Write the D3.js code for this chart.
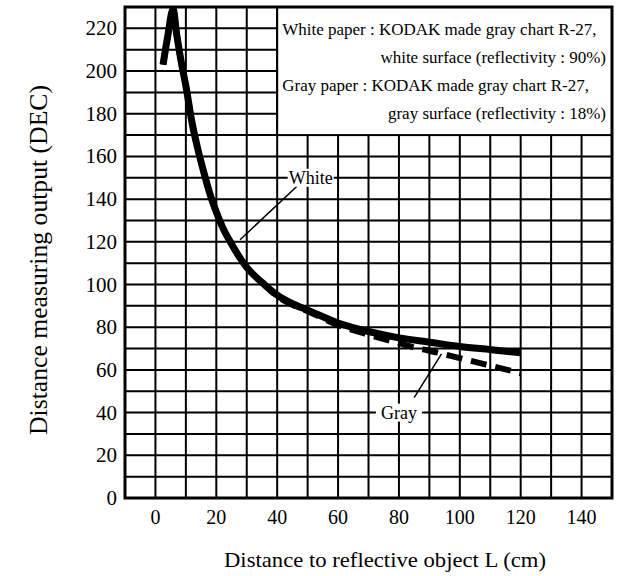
<!DOCTYPE html>
<html>
<head>
<meta charset="utf-8">
<script src="https://cdn.jsdelivr.net/npm/d3@7"></script>
<style>
  body { margin: 0; background: #fff; }
  svg { font-family: "Liberation Serif", "DejaVu Serif", serif; }
</style>
</head>
<body>
<svg width="619" height="576"></svg>
<script>
// data
var xTicks = [0, 20, 40, 60, 80, 100, 120, 140];
var yTicks = [0, 20, 40, 60, 80, 100, 120, 140, 160, 180, 200, 220];

var whiteDist = [2.5, 4, 5.8, 7, 8.5, 10, 12, 14, 16, 18, 20, 22, 25, 28, 30, 35, 40, 45, 50, 60, 70, 80, 90, 100, 110, 120];
var whiteOut  = [203, 216, 229, 217, 204, 193, 176, 163, 152, 142, 134, 127, 119, 112, 108, 101, 95, 91, 88, 82, 78, 75, 73, 71, 69.5, 68];

var grayDist = [2.5, 4, 5.8, 7, 8.5, 10, 12, 14, 16, 18, 20, 22, 25, 28, 30, 35, 40, 45, 50, 60, 70, 80, 85, 90, 100, 110, 120];
var grayOut  = [203, 216, 229, 217, 204, 193, 176, 163, 152, 142, 134, 127, 119, 112, 108, 101, 94.5, 90.5, 87.5, 81, 76.5, 72.5, 70.5, 69, 65.5, 62, 58.5];

var legendLines = [
  "White paper : KODAK made gray chart R-27,",
  "white surface (reflectivity : 90%)",
  "Gray paper : KODAK made gray chart R-27,",
  "gray surface (reflectivity : 18%)"
];

var svg = d3.select("svg");

var xScale = d3.scaleLinear().domain([-10, 150]).range([125, 612]),
    yScale = d3.scaleLinear().domain([0, 230]).range([498, 7]);

svg.append("rect").attr("width", 619).attr("height", 576).attr("fill", "#fff");

var g = svg.append("g");

// grid, every 10 units
g.selectAll(".vgrid")
  .data(d3.range(0, 150, 10))
  .enter().append("line")
  .attr("class", "vgrid")
  .attr("x1", function(d) { return xScale(d); })
  .attr("x2", function(d) { return xScale(d); })
  .attr("y1", yScale(0))
  .attr("y2", yScale(230))
  .attr("stroke", "#000")
  .attr("stroke-width", 2);

g.selectAll(".hgrid")
  .data(d3.range(10, 230, 10))
  .enter().append("line")
  .attr("class", "hgrid")
  .attr("y1", function(d) { return yScale(d); })
  .attr("y2", function(d) { return yScale(d); })
  .attr("x1", xScale(-10))
  .attr("x2", xScale(150))
  .attr("stroke", "#000")
  .attr("stroke-width", 2);

// legend box covers the grid top right
g.append("rect")
  .attr("x", xScale(40))
  .attr("y", yScale(230))
  .attr("width", xScale(150) - xScale(40))
  .attr("height", yScale(170) - yScale(230))
  .attr("fill", "#fff")
  .attr("stroke", "#000")
  .attr("stroke-width", 2);

g.selectAll(".legtext")
  .data(legendLines)
  .enter().append("text")
  .attr("class", "legtext")
  .attr("x", function(d, i) { return i % 2 == 0 ? xScale(40) + 5 : xScale(150) - 6; })
  .attr("y", function(d, i) { return 35 + i * 28; })
  .attr("text-anchor", function(d, i) { return i % 2 == 0 ? "start" : "end"; })
  .attr("font-size", "17px")
  .text(function(d) { return d; });

// plot frame
g.append("rect")
  .attr("x", xScale(-10))
  .attr("y", yScale(230))
  .attr("width", xScale(150) - xScale(-10))
  .attr("height", yScale(0) - yScale(230))
  .attr("fill", "none")
  .attr("stroke", "#000")
  .attr("stroke-width", 3);

// curves
var line = d3.line()
  .x(function(d) { return xScale(d[0]); })
  .y(function(d) { return yScale(d[1]); })
  .curve(d3.curveMonotoneX);

g.append("path")
  .datum(d3.zip(grayDist, grayOut))
  .attr("d", line)
  .attr("fill", "none")
  .attr("stroke", "#000")
  .attr("stroke-width", 6)
  .attr("stroke-dasharray", "16,9");

g.append("path")
  .datum(d3.zip(whiteDist, whiteOut))
  .attr("d", line)
  .attr("fill", "none")
  .attr("stroke", "#000")
  .attr("stroke-width", 7)
  .attr("stroke-linejoin", "round");

// callouts
var labelText = ["White", "Gray"],
    labelPos = [[51, 150], [80, 40]],
    pointerFrom = [[46.5, 146], [85, 47]],
    pointerTo = [[27.8, 121], [94, 67.5]];

labelText.forEach(function(t, i) {
  g.append("line")
    .attr("x1", xScale(pointerFrom[i][0]))
    .attr("y1", yScale(pointerFrom[i][1]))
    .attr("x2", xScale(pointerTo[i][0]))
    .attr("y2", yScale(pointerTo[i][1]))
    .attr("stroke", "#000")
    .attr("stroke-width", 1.5);
  var lx = xScale(labelPos[i][0]), ly = yScale(labelPos[i][1]);
  g.append("rect")
    .attr("x", lx - 23)
    .attr("y", ly - 9)
    .attr("width", 46)
    .attr("height", 18)
    .attr("fill", "#fff");
  g.append("text")
    .attr("x", lx)
    .attr("y", ly + 6)
    .attr("text-anchor", "middle")
    .attr("font-size", "18px")
    .text(t);
});

// tick labels
svg.selectAll(".xlab")
  .data(xTicks)
  .enter().append("text")
  .attr("class", "xlab")
  .attr("x", function(d) { return xScale(d); })
  .attr("y", 524)
  .attr("text-anchor", "middle")
  .attr("font-size", "20px")
  .text(function(d) { return d; });

svg.selectAll(".ylab")
  .data(yTicks)
  .enter().append("text")
  .attr("class", "ylab")
  .attr("x", 117)
  .attr("y", function(d) { return yScale(d) + 7; })
  .attr("text-anchor", "end")
  .attr("font-size", "21px")
  .text(function(d) { return d; });

// axis titles
svg.append("text")
  .attr("x", 385)
  .attr("y", 567)
  .attr("text-anchor", "middle")
  .attr("font-size", "22px")
  .attr("textLength", 322)
  .attr("lengthAdjust", "spacingAndGlyphs")
  .text("Distance to reflective object L (cm)");

svg.append("text")
  .attr("transform", "translate(47,260) rotate(-90)")
  .attr("text-anchor", "middle")
  .attr("font-size", "25px")
  .attr("textLength", 350)
  .attr("lengthAdjust", "spacingAndGlyphs")
  .text("Distance measuring output (DEC)");
</script>
</body>
</html>
